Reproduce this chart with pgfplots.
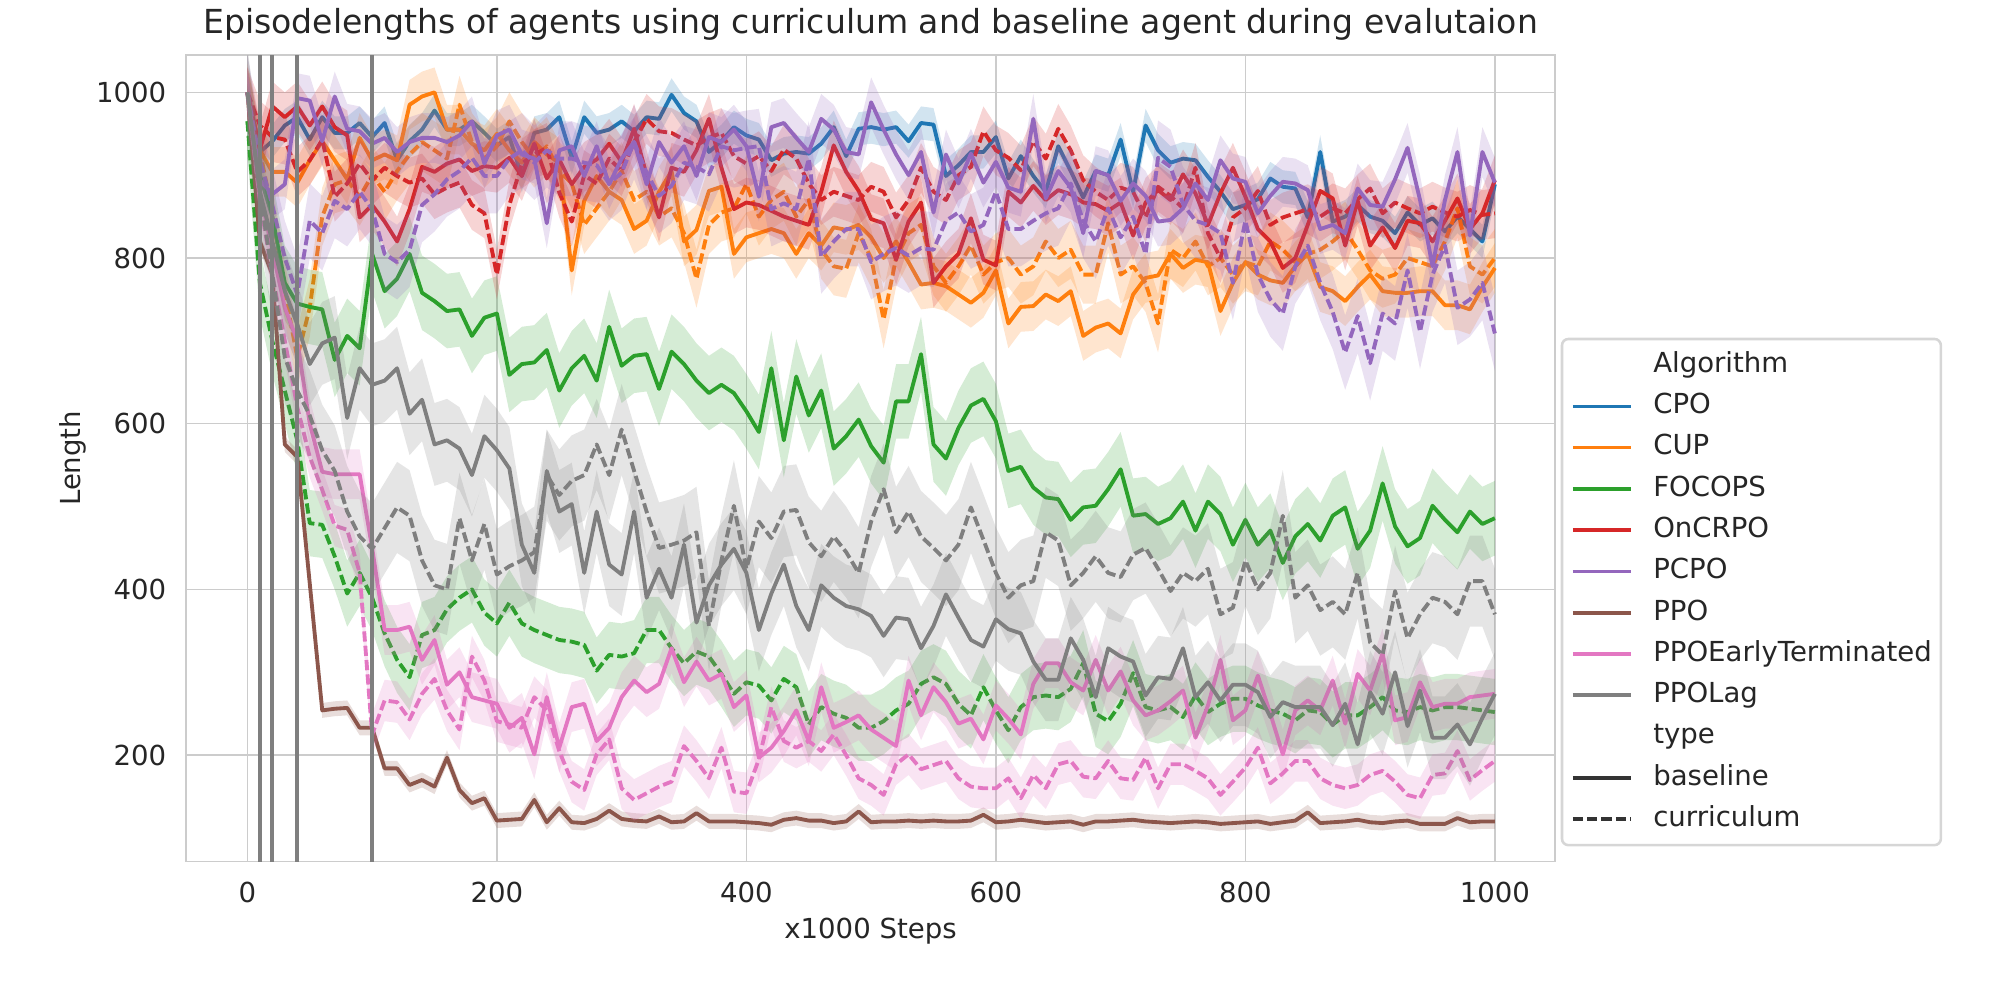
\documentclass[border=0pt]{standalone}
\usepackage{fontspec}
\setmainfont{DejaVu Sans}
\usepackage{pgfplots}
\usepackage{pgfplotstable}
\pgfplotsset{compat=1.18}
\definecolor{cC0}{HTML}{1F77B4}
\definecolor{cC1}{HTML}{FF7F0E}
\definecolor{cC2}{HTML}{2CA02C}
\definecolor{cC3}{HTML}{D62728}
\definecolor{cC4}{HTML}{9467BD}
\definecolor{cC5}{HTML}{8C564B}
\definecolor{cC6}{HTML}{E377C2}
\definecolor{cC7}{HTML}{7F7F7F}
\definecolor{gridc}{HTML}{CCCCCC}
\definecolor{legc}{HTML}{D6D6D6}
\definecolor{textc}{HTML}{262626}
\definecolor{c33}{HTML}{333333}
\pgfplotstableread{
x cpo cupb cupc focb focc onb onc pcb pcc ppo etb etc lagb lagc
0 1000 1000 1000 965 965 1000 1000 1000 1000 1000 1000 1000 1000 1000
10 928 930 930 900 770 931 960 894 918 820 880 870 880 880
20 941 904 854 850 700 983 946 877 864 780 810 780 820 780
30 960 904 760 770 640 970 943 889 800 575 740 700 760 680
40 970 891 680 745 580 983 904 993 756 560 700 620 720 640
50 943 918 740 741 480 960 918 990 845 407 600 560 672 610
60 970 941 850 738 478 983 943 941 830 254 542 520 697 568
70 951 918 889 677 440 958 874 995 869 256 539 477 704 543
80 951 895 894 706 395 948 890 956 859 257 539 472 607 494
90 963 945 874 691 420 849 914 953 880 233 539 420 667 464
100 946 918 900 805 390 864 894 938 859 233 450 225 647 449
110 963 925 880 760 347 844 909 945 805 184 351 266 652 474
120 918 918 905 775 315 820 899 928 795 184 351 264 667 499
130 941 985 925 805 294 859 891 940 810 164 355 243 612 489
140 955 995 940 758 345 910 896 945 864 170 315 274 629 435
150 978 1000 930 748 351 904 877 945 877 162 339 292 575 405
160 955 955 920 736 376 914 885 940 895 197 285 254 580 400
170 955 955 985 738 390 919 891 948 905 158 300 231 570 486
180 965 938 940 706 400 905 864 965 921 142 270 319 538 435
190 951 930 920 728 372 911 854 914 899 148 266 290 585 479
200 936 950 935 733 359 909 780 948 899 121 262 241 568 418
210 946 930 965 659 384 921 864 955 920 122 233 237 546 428
220 899 915 940 672 359 899 914 925 930 123 245 233 454 435
230 951 940 920 674 351 938 925 920 915 146 201 270 420 445
240 955 925 935 689 345 896 933 842 930 119 270 254 543 538
250 970 915 905 640 339 919 879 930 920 136 209 205 494 514
260 921 785 890 667 337 889 844 935 920 119 258 168 503 531
270 970 869 840 682 333 910 900 899 915 118 262 158 420 538
280 951 899 860 652 302 919 890 935 912 123 217 201 494 575
290 955 880 880 717 321 938 920 889 890 133 233 219 430 538
300 965 870 905 670 319 916 905 920 903 123 270 160 418 593
310 953 835 870 682 323 956 940 940 940 121 290 146 494 543
320 970 845 880 684 351 900 968 889 903 120 276 154 390 494
330 968 880 850 642 351 849 953 940 875 126 286 162 425 450
340 997 905 860 687 329 909 951 915 887 119 329 168 390 454
350 975 820 830 672 311 904 943 935 915 120 288 211 454 459
360 965 834 775 652 325 930 936 899 910 130 313 193 360 469
370 928 881 840 637 319 968 945 946 901 120 290 172 405 356
380 941 886 855 647 298 909 951 940 935 120 298 209 430 435
390 958 805 860 637 274 859 923 955 930 120 258 156 449 501
400 948 825 889 615 288 867 914 935 933 119 272 154 420 425
410 943 830 850 590 284 864 923 874 935 118 197 195 351 482
420 918 835 870 667 266 857 905 958 859 116 209 258 395 462
430 926 830 880 580 292 850 931 963 866 122 229 217 430 494
440 928 805 850 657 282 845 920 945 859 124 254 209 380 496
450 926 830 870 610 237 840 890 928 920 121 217 217 351 457
460 938 815 810 640 258 880 870 968 802 121 282 205 405 440
470 958 837 790 570 250 936 880 955 820 118 233 225 390 464
480 923 834 787 585 245 904 875 928 835 120 240 200 380 445
490 956 840 830 605 233 881 870 925 835 132 248 172 376 420
500 958 825 800 573 233 847 886 988 795 119 231 164 368 482
510 955 800 726 553 241 842 880 955 805 120 221 152 344 521
520 958 820 800 627 254 798 849 925 812 120 211 189 366 469
530 941 795 830 627 262 844 870 900 803 121 290 201 364 494
540 963 768 840 684 286 867 909 928 812 120 248 183 329 464
550 961 770 790 575 294 770 880 855 810 121 282 188 356 450
560 899 766 770 558 286 790 870 925 845 120 264 193 394 435
570 912 756 790 595 262 805 900 890 855 120 238 172 366 454
580 928 746 815 622 248 848 910 926 832 121 244 162 339 499
590 928 758 780 630 282 798 953 891 840 128 219 160 331 460
600 946 785 795 603 254 791 930 916 880 119 260 160 364 420
610 896 721 800 543 230 880 921 885 835 120 244 172 352 390
620 923 741 780 548 258 867 906 880 835 122 225 148 347 405
630 899 742 790 523 270 887 941 968 845 120 286 176 313 410
640 880 756 820 511 272 870 920 872 854 118 311 160 291 469
650 935 748 800 509 270 882 956 905 860 119 311 189 291 459
660 905 760 810 484 280 877 930 885 890 120 288 193 341 405
670 873 706 780 499 311 867 894 830 845 116 278 174 315 420
680 905 716 780 501 250 865 880 905 820 120 315 172 270 440
690 900 721 842 521 241 857 870 900 860 120 278 193 329 420
700 943 709 780 545 262 867 885 869 825 121 301 172 319 415
710 880 756 790 489 299 827 880 890 850 122 266 170 313 442
720 960 776 770 491 258 867 849 875 805 120 248 197 272 450
730 930 779 721 479 254 882 886 844 921 119 254 160 294 425
740 915 805 810 486 258 870 875 846 910 118 265 189 292 398
750 920 788 800 506 246 901 860 860 865 119 278 189 329 420
760 918 798 820 471 272 878 909 890 845 120 221 181 270 410
770 898 795 790 506 252 840 830 870 840 119 260 172 288 425
780 880 736 800 491 262 878 800 918 830 117 315 152 266 370
790 859 770 780 454 268 909 849 896 770 118 242 168 285 378
800 864 795 795 484 268 874 860 892 845 119 254 185 285 435
810 871 780 790 454 260 835 881 854 780 120 296 209 276 400
820 896 773 820 471 254 820 840 875 750 117 250 166 246 420
830 886 770 810 432 250 788 849 892 733 119 201 178 264 489
840 884 790 795 464 242 800 854 890 790 121 254 193 258 390
850 849 805 805 479 254 840 859 882 815 131 266 193 258 405
860 928 765 810 459 252 881 850 835 770 118 254 172 258 375
870 844 760 820 489 237 872 860 840 735 119 290 164 236 385
880 850 748 833 499 248 815 854 830 686 120 238 160 262 370
890 864 765 810 449 248 869 871 884 730 122 298 164 213 420
900 850 780 785 471 258 815 884 864 673 119 278 176 276 336
910 845 760 775 528 270 837 854 862 733 118 323 181 250 321
920 830 758 780 476 254 812 867 895 721 120 242 168 300 398
930 855 758 800 452 252 845 860 933 785 121 246 152 235 341
940 840 760 795 462 258 842 854 870 711 117 288 148 278 370
950 848 760 790 501 254 820 862 790 780 117 258 176 221 390
960 832 743 820 484 258 845 855 870 815 117 262 178 221 385
970 850 743 860 469 258 872 850 928 740 124 262 205 237 370
980 835 738 790 494 256 835 858 827 750 119 270 170 213 410
990 820 765 780 479 254 854 852 928 770 120 272 182 245 410
1000 889 788 800 486 252 894 854 891 709 120 274 193 274 370
}\data
\pgfplotstablesort[sort key=x, sort cmp=float <]{\band}{\data}
\pgfplotstablesort[sort key=x, sort cmp=float >]{\rev}{\data}
\pgfplotstablevertcat{\band}{\rev}
\newcommand{\series}[4]{%
\addplot[fill=#2, fill opacity=0.2, draw=none, forget plot] table[x=x, y expr={\thisrow{#1}+ifthenelse(\coordindex<101,#3,-#3)}] {\band};
\addplot[#2, line width=1.5pt, line join=round, #4, forget plot] table[x=x, y=#1] {\data};
}
\tikzset{curr/.style={dash pattern=on 4pt off 1.6pt}, base/.style={}}
\newcommand{\fnt}{\fontsize{10.75}{13}\selectfont}
\begin{document}
\begin{tikzpicture}
\path[use as bounding box] (-72.5pt,-54pt) rectangle (707.5pt,336pt);
\begin{axis}[
  width=534pt, height=314.5pt, scale only axis,
  at={(0,0)}, anchor=south west,
  xmin=-49.3, xmax=1048.3, ymin=71.6, ymax=1044.9,
  xtick={0,200,...,1000}, ytick={200,400,...,1000},
  grid=major, major grid style={gridc, line width=0.55pt},
  axis line style={gridc, line width=0.65pt},
  major tick length=0pt,
  scaled ticks=false,
  /pgf/number format/1000 sep={},
  /pgf/number format/assume math mode=true,
  tick label style={font=\fnt, text=textc, inner sep=0pt},
  xticklabel style={anchor=base, yshift=-16pt},
  yticklabel style={anchor=east, xshift=-7.5pt},
  xlabel={x1000 Steps}, ylabel={Length},
  label style={font=\fnt, text=textc, inner sep=0pt},
  x label style={at={(axis description cs:0.5,-0.096)}, anchor=base},
  y label style={at={(axis description cs:-0.0768,0.5)}, anchor=base},
  title={Episodelengths of agents using curriculum and baseline agent during evalutaion},
  title style={font=\fontsize{12.9}{15}\selectfont, text=textc, inner sep=0pt, at={(axis description cs:0.5,1.008)}, anchor=base},
  legend image code/.code={\draw[#1] (0pt,0pt) -- (22.7pt,0pt);},
  legend cell align=left,
  legend style={at={(1.005,0.648)}, anchor=north west, draw=legc, line width=1pt,
    rounded corners=2.5pt, fill=white, text=textc, font=\fnt, outer sep=0pt,
    inner xsep=3.5pt, inner ysep=5pt, row sep=5.8pt,
    nodes={inner sep=0pt, text height=8pt, text depth=2.3pt},
    /tikz/every odd column/.append style={column sep=8pt}},
]
\series{cpo}{cC0}{20}{base}
\series{cupb}{cC1}{30}{base}
\series{cupc}{cC1}{35}{curr}
\series{focb}{cC2}{45}{base}
\series{focc}{cC2}{40}{curr}
\series{onb}{cC3}{30}{base}
\series{onc}{cC3}{30}{curr}
\series{pcb}{cC4}{30}{base}
\series{pcc}{cC4}{45}{curr}
\series{ppo}{cC5}{9}{base}
\series{etb}{cC6}{30}{base}
\series{etc}{cC6}{25}{curr}
\series{lagb}{cC7}{50}{base}
\series{lagc}{cC7}{55}{curr}
\addplot[cC7, line width=1.5pt, forget plot] coordinates {(10,71.6) (10,1044.9)};
\addplot[cC7, line width=1.5pt, forget plot] coordinates {(20,71.6) (20,1044.9)};
\addplot[cC7, line width=1.5pt, forget plot] coordinates {(40,71.6) (40,1044.9)};
\addplot[cC7, line width=1.5pt, forget plot] coordinates {(100,71.6) (100,1044.9)};
\addlegendimage{empty legend}\addlegendentry{Algorithm}
\addlegendimage{cC0, line width=1.4pt}\addlegendentry{CPO}
\addlegendimage{cC1, line width=1.4pt}\addlegendentry{CUP}
\addlegendimage{cC2, line width=1.4pt}\addlegendentry{FOCOPS}
\addlegendimage{cC3, line width=1.4pt}\addlegendentry{OnCRPO}
\addlegendimage{cC4, line width=1.4pt}\addlegendentry{PCPO}
\addlegendimage{cC5, line width=1.4pt}\addlegendentry{PPO}
\addlegendimage{cC6, line width=1.4pt}\addlegendentry{PPOEarlyTerminated}
\addlegendimage{cC7, line width=1.4pt}\addlegendentry{PPOLag}
\addlegendimage{empty legend}\addlegendentry{type}
\addlegendimage{c33, line width=1.4pt}\addlegendentry{baseline}
\addlegendimage{c33, line width=1.4pt, dash pattern=on 4pt off 1.6pt}\addlegendentry{curriculum}
\end{axis}
\end{tikzpicture}
\end{document}
